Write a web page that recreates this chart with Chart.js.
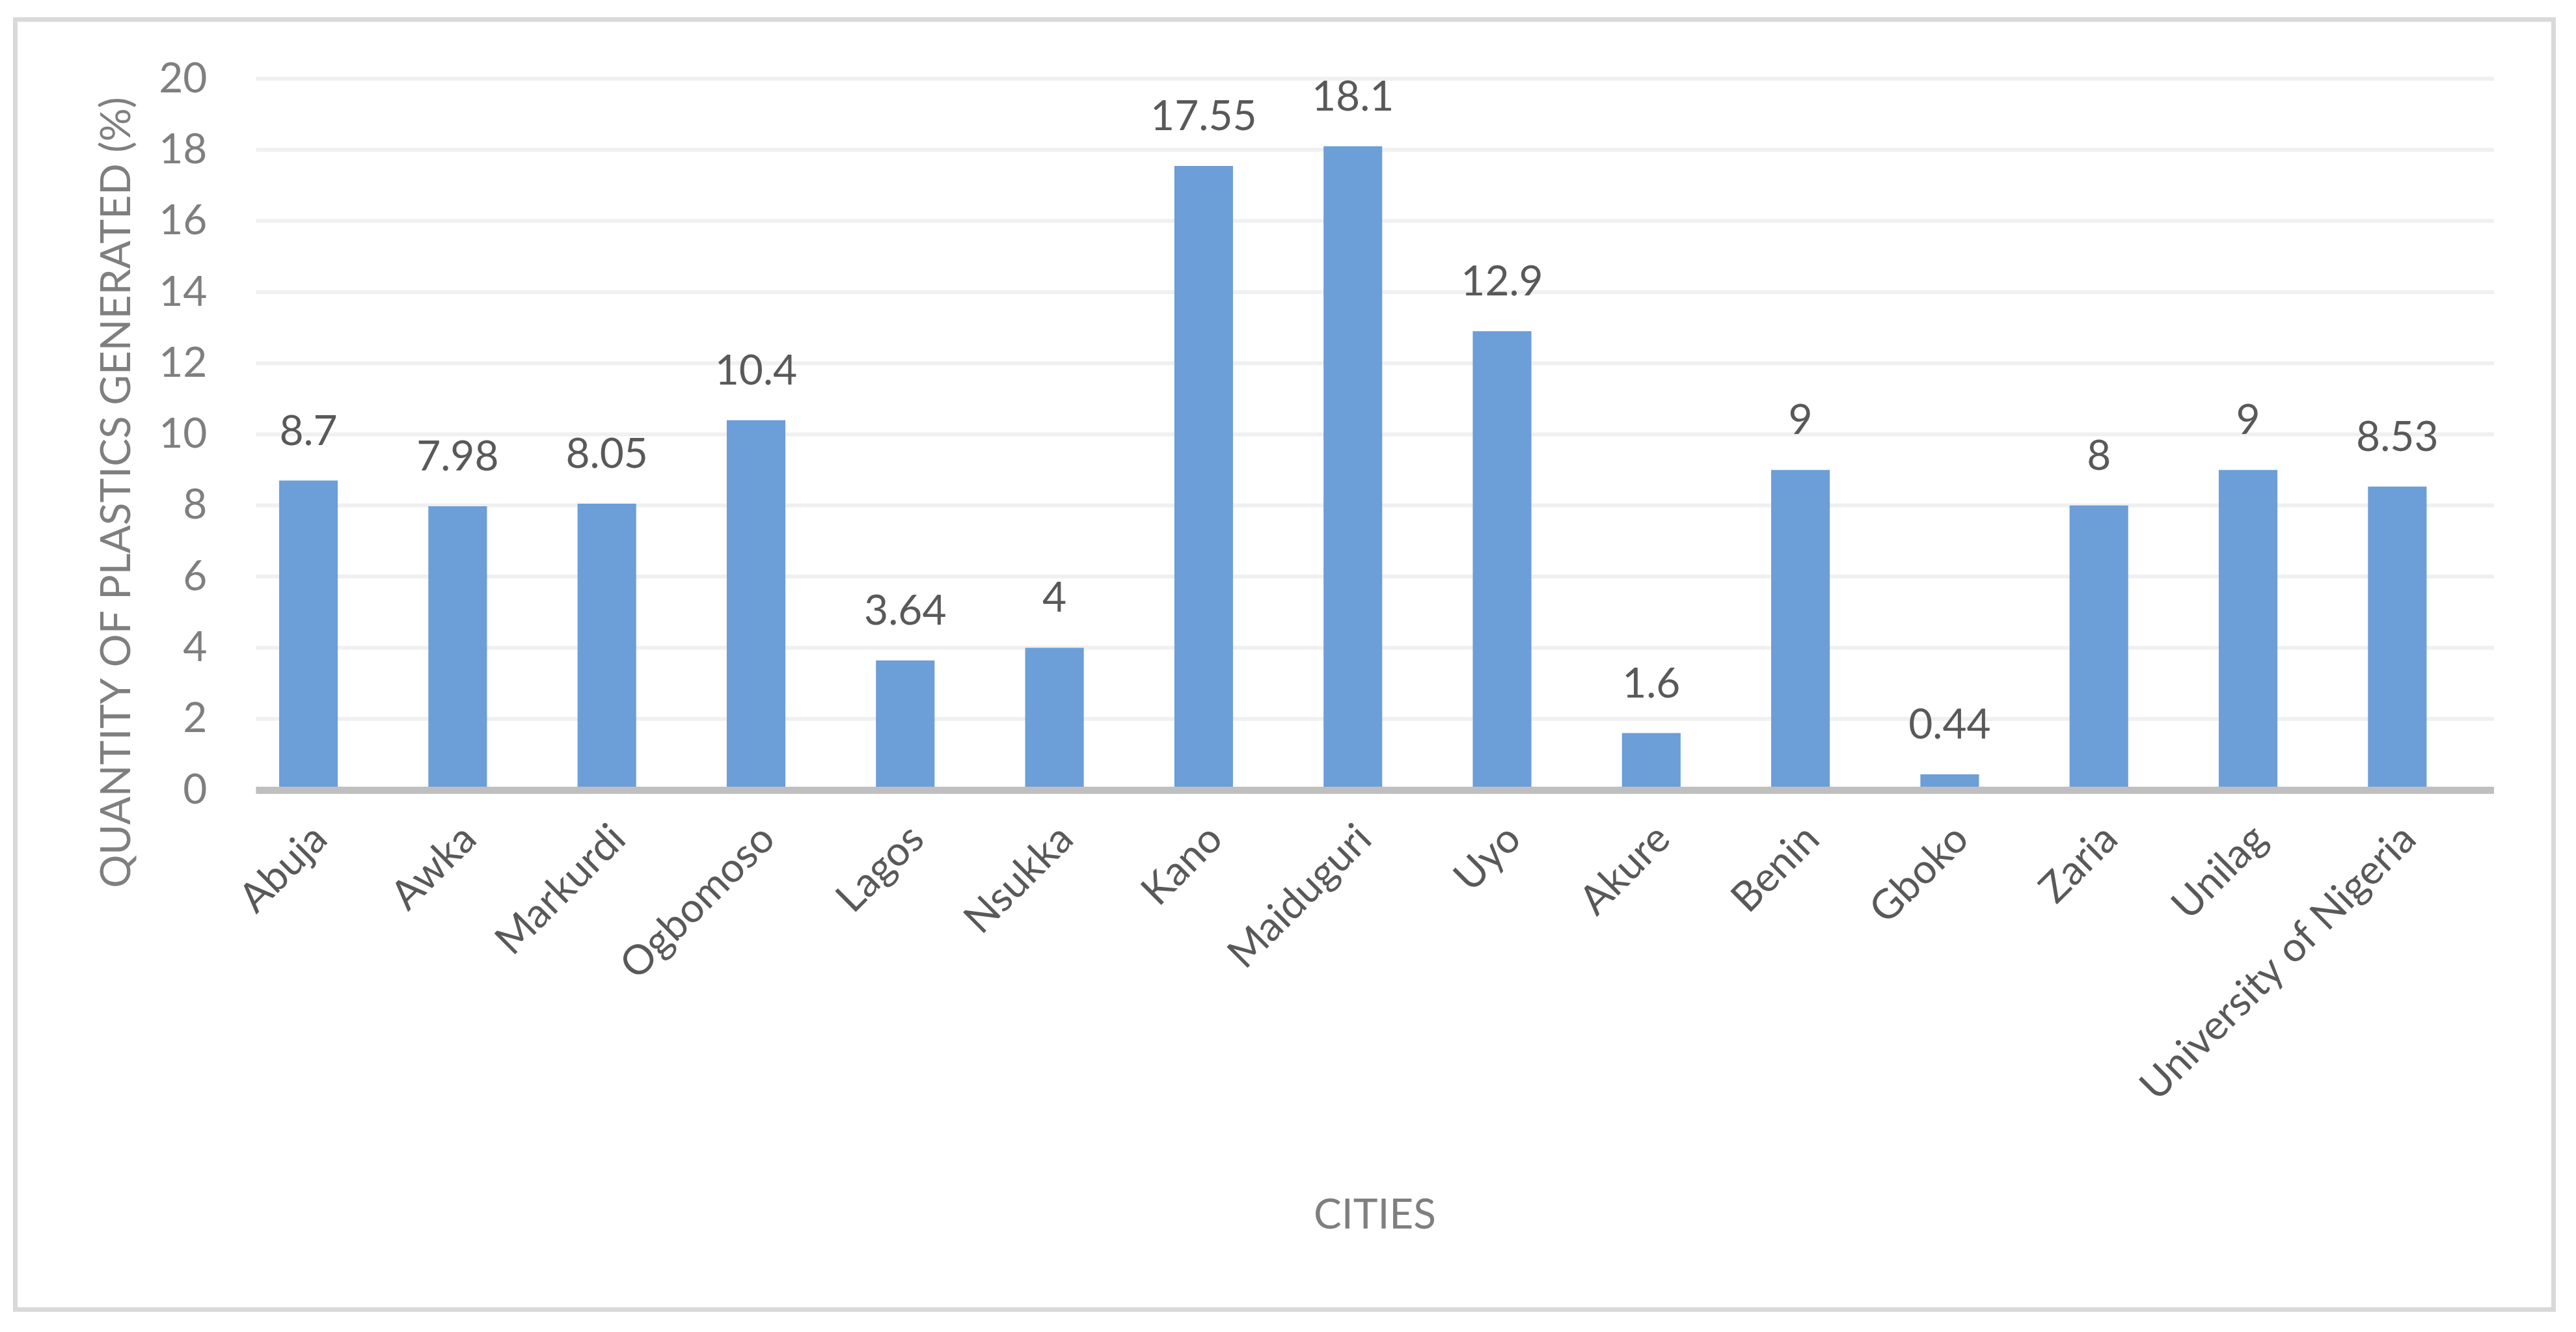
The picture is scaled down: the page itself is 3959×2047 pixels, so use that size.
<!DOCTYPE html>
<html>
<head>
<meta charset="utf-8">
<title>Quantity of plastics generated by city</title>
<script src="https://cdn.jsdelivr.net/npm/chart.js@4.4.0/dist/chart.umd.min.js"></script>
<style>
  html, body { margin: 0; padding: 0; background: #fff; }
  #wrap { width: 3959px; height: 2047px; position: relative; }
</style>
</head>
<body>
<div id="wrap"><canvas id="plasticsChart"></canvas></div>
<script>
// Data
const cities = ['Abuja', 'Awka', 'Markurdi', 'Ogbomoso', 'Lagos', 'Nsukka', 'Kano', 'Maiduguri',
                'Uyo', 'Akure', 'Benin', 'Gboko', 'Zaria', 'Unilag', 'University of Nigeria'];
const plasticShare = [8.7, 7.98, 8.05, 10.4, 3.64, 4, 17.55, 18.1, 12.9, 1.6, 9, 0.44, 8, 9, 8.53];
const yTicks = [0, 2, 4, 6, 8, 10, 12, 14, 16, 18, 20];

const yTitle = 'QUANTITY OF PLASTICS GENERATED (%)';
const xTitle = 'CITIES';

const FONT = 'Lato, "Open Sans", sans-serif';
const GRID_SHIFT = 34; // gridlines in the original sit a bit right of the bars

// Frame, gridlines, axis line, value labels and axis titles
const excelLook = {
    id: 'excelLook',
    beforeDraw(chart) {
        const ctx = chart.ctx;
        ctx.save();
        ctx.fillStyle = '#ffffff';
        ctx.fillRect(0, 0, chart.width, chart.height);
        ctx.strokeStyle = '#d9d9d9';
        ctx.lineWidth = 7;
        ctx.strokeRect(23.5, 30, 3901, 1982.5);
        ctx.restore();
    },
    beforeDatasetsDraw(chart) {
        const { ctx, chartArea, scales: { y } } = chart;
        ctx.save();
        ctx.strokeStyle = '#f0f0f0';
        ctx.lineWidth = 6;
        yTicks.forEach(v => {
            if (v === 0) return;
            const py = y.getPixelForValue(v);
            ctx.beginPath();
            ctx.moveTo(chartArea.left + GRID_SHIFT, py);
            ctx.lineTo(chartArea.right + GRID_SHIFT, py);
            ctx.stroke();
        });
        ctx.restore();
    },
    afterDatasetsDraw(chart) {
        const { ctx, chartArea, scales: { y } } = chart;
        ctx.save();
        // category axis line
        const y0 = y.getPixelForValue(0) + 0.5;
        ctx.strokeStyle = '#bfbfbf';
        ctx.lineWidth = 11;
        ctx.beginPath();
        ctx.moveTo(chartArea.left + GRID_SHIFT, y0);
        ctx.lineTo(chartArea.right + GRID_SHIFT, y0);
        ctx.stroke();

        // value labels above the bars
        ctx.fillStyle = '#595959';
        ctx.font = '64px ' + FONT;
        ctx.textAlign = 'center';
        ctx.textBaseline = 'alphabetic';
        chart.getDatasetMeta(0).data.forEach((bar, i) => {
            ctx.fillText(String(plasticShare[i]), bar.x, bar.y - 55);
        });
        ctx.restore();
    },
    afterDraw(chart) {
        const ctx = chart.ctx;
        ctx.save();
        ctx.fillStyle = '#7f7f7f';
        ctx.font = '64px ' + FONT;
        ctx.textAlign = 'center';
        ctx.textBaseline = 'alphabetic';
        ctx.fillText(xTitle, 2113, 1888);
        ctx.translate(200, 757);
        ctx.rotate(-Math.PI / 2);
        ctx.fillText(yTitle, 0, 0);
        ctx.restore();
    }
};

function drawChart() {
    const canvas = document.getElementById('plasticsChart');
    new Chart(canvas, {
        type: 'bar',
        data: {
            labels: cities,
            datasets: [{
                data: plasticShare,
                backgroundColor: '#6c9ed8',
                borderWidth: 0,
                categoryPercentage: 1,
                barPercentage: 0.393
            }]
        },
        options: {
            responsive: true,
            maintainAspectRatio: false,
            animation: false,
            layout: { padding: { left: 0, top: 121, right: 160, bottom: 0 } },
            plugins: {
                legend: { display: false },
                tooltip: { enabled: false },
                title: { display: false }
            },
            scales: {
                x: {
                    grid: { display: false },
                    border: { display: false },
                    ticks: {
                        autoSkip: false,
                        minRotation: 45,
                        maxRotation: 45,
                        padding: 30,
                        labelOffset: 18,
                        color: '#595959',
                        font: { family: FONT, size: 63 }
                    },
                    afterFit: s => { s.height = 833; }
                },
                y: {
                    min: yTicks[0],
                    max: yTicks[yTicks.length - 1],
                    grid: { display: false, drawTicks: false },
                    border: { display: false },
                    ticks: {
                        stepSize: yTicks[1] - yTicks[0],
                        padding: 41,
                        color: '#7f7f7f',
                        font: { family: FONT, size: 64 }
                    },
                    afterFit: s => { s.width = 359.4; }
                }
            }
        },
        plugins: [excelLook]
    });
}

if (document.fonts && document.fonts.load) {
    Promise.all([document.fonts.load('64px Lato'), document.fonts.load('63px Lato')])
        .then(drawChart, drawChart);
} else {
    drawChart();
}
</script>
</body>
</html>
